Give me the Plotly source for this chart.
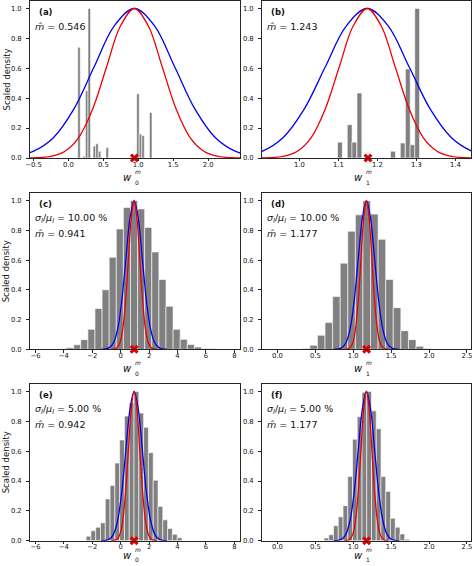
import plotly.graph_objects as go

W, H = 474, 566

# ---------------- data ----------------
# panel (a): histogram of w0 (few samples)
a_bar_x = [0.152, 0.226, 0.262, 0.299, 0.372, 0.409, 0.446, 0.556, 0.996, 1.032, 1.069, 1.179]
a_bar_y = [0.74, 0.012, 0.45, 1.0, 0.08, 0.095, 0.045, 0.07, 0.43, 0.16, 0.15, 0.305]
# panel (b): histogram of w1
b_bar_x = [1.104, 1.129, 1.141, 1.154, 1.240, 1.265, 1.278, 1.290, 1.302]
b_bar_y = [0.106, 0.223, 0.106, 0.435, 0.045, 0.10, 0.595, 0.088, 1.0]
# panel (c): sigma/mu = 10 %, w0
c_bar_x = [-4.06, -3.56, -3.06, -2.56, -2.06, -1.56, -1.06, -0.56, -0.06, 0.44, 0.94, 1.44,
           1.94, 2.44, 2.94, 3.44, 3.94, 4.44, 4.94, 5.44, 5.94, 6.44]
c_bar_y = [0.004, 0.01, 0.03, 0.065, 0.135, 0.275, 0.40, 0.62, 0.81, 0.955, 1.0, 0.945,
           0.82, 0.655, 0.47, 0.29, 0.135, 0.067, 0.033, 0.015, 0.005, 0.003]
# panel (d): sigma/mu = 10 %, w1
d_bar_x = [0.378, 0.478, 0.578, 0.678, 0.778, 0.878, 0.978, 1.078, 1.178, 1.278, 1.378,
           1.478, 1.578, 1.678, 1.778, 1.878, 1.978]
d_bar_y = [0.005, 0.027, 0.095, 0.18, 0.355, 0.58, 0.795, 0.905, 1.0, 0.91, 0.74,
           0.47, 0.28, 0.125, 0.065, 0.02, 0.005]
# panel (e): sigma/mu = 5 %, w0
e_bar_x = [-2.266, -1.929, -1.591, -1.254, -0.916, -0.579, -0.241, 0.096, 0.434, 0.771,
           1.109, 1.446, 1.784, 2.121, 2.459, 2.796, 3.134, 3.471, 3.809, 4.146]
e_bar_y = [0.03, 0.067, 0.09, 0.12, 0.28, 0.37, 0.52, 0.675, 0.835, 0.925,
           1.0, 0.855, 0.76, 0.59, 0.405, 0.23, 0.14, 0.082, 0.043, 0.02]
# panel (f): sigma/mu = 5 %, w1
f_bar_x = [0.646, 0.709, 0.771, 0.834, 0.897, 0.959, 1.022, 1.084, 1.147, 1.209, 1.272,
           1.335, 1.397, 1.460, 1.522, 1.585, 1.647, 1.710]
f_bar_y = [0.018, 0.04, 0.1, 0.16, 0.235, 0.43, 0.68, 0.83, 0.995, 1.0, 0.87,
           0.75, 0.43, 0.33, 0.15, 0.09, 0.045, 0.01]

# smooth curves (blue = wide, red = narrow), w0 and w1
blue_w0_x = [-1.375, -1.085, -0.795, -0.505, -0.215, 0.075, 0.365, 0.655, 0.945, 1.235,
             1.525, 1.815, 2.105, 2.395, 2.685, 2.975, 3.265]
blue_w0_y = [0.0003, 0.0022, 0.0111, 0.0439, 0.1353, 0.3247, 0.6065, 0.8825, 1.0, 0.8825,
             0.6065, 0.3247, 0.1353, 0.0439, 0.0111, 0.0022, 0.0003]
red_w0_x = [-0.655, -0.455, -0.255, -0.055, 0.145, 0.345, 0.545, 0.745, 0.945, 1.145,
            1.345, 1.545, 1.745, 1.945, 2.145, 2.345, 2.545]
red_w0_y = [0.0003, 0.0022, 0.0111, 0.0439, 0.1353, 0.3247, 0.6065, 0.8825, 1.0, 0.8825,
            0.6065, 0.3247, 0.1353, 0.0439, 0.0111, 0.0022, 0.0003]
blue_w1_x = [0.742, 0.796, 0.850, 0.904, 0.958, 1.012, 1.066, 1.120, 1.174, 1.228,
             1.282, 1.336, 1.390, 1.444, 1.498, 1.552, 1.606]
blue_w1_y = [0.0003, 0.0022, 0.0111, 0.0439, 0.1353, 0.3247, 0.6065, 0.8825, 1.0, 0.8825,
             0.6065, 0.3247, 0.1353, 0.0439, 0.0111, 0.0022, 0.0003]
red_w1_x = [0.886, 0.922, 0.958, 0.994, 1.030, 1.066, 1.102, 1.138, 1.174, 1.210,
            1.246, 1.282, 1.318, 1.354, 1.390, 1.426, 1.462]
red_w1_y = [0.0003, 0.0022, 0.0111, 0.0439, 0.1353, 0.3247, 0.6065, 0.8825, 1.0, 0.8825,
            0.6065, 0.3247, 0.1353, 0.0439, 0.0111, 0.0022, 0.0003]

mark_w0 = 0.945
mark_w1 = 1.176

panel_labels = ["(a)", "(b)", "(c)", "(d)", "(e)", "(f)"]
m_hat = ["0.546", "1.243", "0.941", "1.177", "0.942", "1.177"]
sigma_text = [None, None, "10.00", "10.00", "5.00", "5.00"]

y_ticks = [0.0, 0.2, 0.4, 0.6, 0.8, 1.0]
y_ticktext = ["0.0", "0.2", "0.4", "0.6", "0.8", "1.0"]
xt_a = [-0.5, 0.0, 0.5, 1.0, 1.5, 2.0]
xt_a_text = ["\u22120.5", "0.0", "0.5", "1.0", "1.5", "2.0"]
xt_b = [1.0, 1.1, 1.2, 1.3, 1.4]
xt_b_text = ["1.0", "1.1", "1.2", "1.3", "1.4"]
xt_w0 = [-6, -4, -2, 0, 2, 4, 6, 8]
xt_w0_text = ["\u22126", "\u22124", "\u22122", "0", "2", "4", "6", "8"]
xt_w1 = [0.0, 0.5, 1.0, 1.5, 2.0, 2.5]
xt_w1_text = ["0.0", "0.5", "1.0", "1.5", "2.0", "2.5"]

# ---------------- layout helpers ----------------
def px(x):
    return x / W


def py(y):
    return 1 - y / H


FONT = "DejaVu Sans"
AX = "#262626"
TXT = "#111111"

col_px = [(29.5, 240.0), (261.5, 471.0)]
row_px = [(1.0, 158.0), (193.3, 349.3), (384.0, 540.7)]
# (w centre, superscript centre, subscript centre) below the axis line
title_off = [(19.5, 13.6, 24.0), (19.5, 13.6, 24.0), (14.5, 8.6, 18.6)]

panels = [
    dict(bx=a_bar_x, by=a_bar_y, bw=0.0367, w="w0", xr=[-0.557, 2.457], tv=xt_a, tt=xt_a_text),
    dict(bx=b_bar_x, by=b_bar_y, bw=0.0124, w="w1", xr=[0.903, 1.440], tv=xt_b, tt=xt_b_text),
    dict(bx=c_bar_x, by=c_bar_y, bw=0.5, w="w0", xr=[-6.42, 8.40], tv=xt_w0, tt=xt_w0_text),
    dict(bx=d_bar_x, by=d_bar_y, bw=0.1, w="w1", xr=[-0.21, 2.553], tv=xt_w1, tt=xt_w1_text),
    dict(bx=e_bar_x, by=e_bar_y, bw=0.3375, w="w0", xr=[-6.42, 8.40], tv=xt_w0, tt=xt_w0_text),
    dict(bx=f_bar_x, by=f_bar_y, bw=0.0626, w="w1", xr=[-0.21, 2.553], tv=xt_w1, tt=xt_w1_text),
]

fig = go.Figure()
layout = dict(
    width=W, height=H, margin=dict(l=0, r=0, t=0, b=0, autoexpand=False),
    paper_bgcolor="white", plot_bgcolor="white", showlegend=False,
    font=dict(family=FONT, color=TXT),
)
annotations = []


def ann(text, x, y, size, xanchor="left", **kw):
    d = dict(text=text, x=px(x), y=py(y), xref="paper", yref="paper",
             xanchor=xanchor, yanchor="middle", showarrow=False, borderpad=0,
             font=dict(size=size, family=FONT, color=TXT))
    d.update(kw)
    annotations.append(d)


for i, p in enumerate(panels):
    r, c = divmod(i, 2)
    n = "" if i == 0 else str(i + 1)
    xa, ya = "x" + n, "y" + n
    x0, x1 = col_px[c]
    y0, y1 = row_px[r]

    fig.add_trace(go.Bar(
        x=p["bx"], y=p["by"], width=p["bw"], xaxis=xa, yaxis=ya,
        marker=dict(color="#808080", line=dict(color="white", width=0.6)),
    ))
    if p["w"] == "w0":
        bx, byy, rx, ryy, mk = blue_w0_x, blue_w0_y, red_w0_x, red_w0_y, mark_w0
    else:
        bx, byy, rx, ryy, mk = blue_w1_x, blue_w1_y, red_w1_x, red_w1_y, mark_w1
    fig.add_trace(go.Scatter(x=bx, y=byy, mode="lines", xaxis=xa, yaxis=ya,
                             line=dict(color="#0000ee", width=1.3, shape="spline", smoothing=1)))
    fig.add_trace(go.Scatter(x=rx, y=ryy, mode="lines", xaxis=xa, yaxis=ya,
                             line=dict(color="#ee0000", width=1.3, shape="spline", smoothing=1)))
    fig.add_trace(go.Scatter(x=[mk], y=[0], mode="markers", xaxis=xa, yaxis=ya, cliponaxis=False,
                             marker=dict(symbol="x", size=8, color="#e00000", line=dict(width=0))))

    layout["xaxis" + n] = dict(
        domain=[px(x0), px(x1)], anchor=ya, range=p["xr"],
        tickmode="array", tickvals=p["tv"], ticktext=p["tt"],
        ticks="outside", ticklen=2.5, tickwidth=0.8, tickcolor=AX,
        showline=True, linecolor=AX, linewidth=0.9, mirror=True,
        zeroline=False, showgrid=False, automargin=False, ticklabelstandoff=-3,
        ticklabeloverflow="allow",
        tickfont=dict(size=6.8, family=FONT, color=TXT),
    )
    layout["yaxis" + n] = dict(
        domain=[py(y1), py(y0)], anchor=xa, range=[0, 1.05],
        tickmode="array", tickvals=y_ticks, ticktext=y_ticktext,
        ticks="outside", ticklen=2.5, tickwidth=0.8, tickcolor=AX,
        showline=True, linecolor=AX, linewidth=0.9, mirror=True,
        zeroline=False, showgrid=False, automargin=False, ticklabelstandoff=3,
        tickfont=dict(size=6.8, family=FONT, color=TXT),
    )

    # panel letter and texts
    ann("<b>" + panel_labels[i] + "</b>", x0 + 8.5, y0 + 10.5, 8.5)
    if sigma_text[i] is None:
        ann("<i>m\u0302</i> = " + m_hat[i], x0 + 4, y0 + 25.5, 9.5)
    else:
        ann("<i>\u03c3</i><sub><i>l</i></sub>/<i>\u03bc</i><sub><i>l</i></sub> = "
            + sigma_text[i] + " %", x0 + 4, y0 + 25, 9.5)
        ann("<i>m\u0302</i> = " + m_hat[i], x0 + 4, y0 + 40, 9.5)

    # x-axis title  w_0^m / w_1^m (stacked sub/superscript)
    cx = (x0 + x1) / 2 - 2
    ow, osup, osub = title_off[r]
    sub = "0" if p["w"] == "w0" else "1"
    ann("<i>w</i>", cx, y1 + ow, 10, xanchor="right")
    ann(sub, cx + 0.8, y1 + osub, 6.0)
    ann("<i>m</i>", cx + 0.8, y1 + osup, 6.0)

    if c == 0:
        ann("Scaled density", 6, (y0 + y1) / 2, 8.5, xanchor="center", textangle=-90)

layout["annotations"] = annotations
layout["barmode"] = "overlay"
fig.update_layout(**layout)
# remove the browser's default 8px page margin so the figure sits at the page origin
fig.write_html("out.html", config={"displayModeBar": False},
               post_script="document.body.style.margin='0';")
